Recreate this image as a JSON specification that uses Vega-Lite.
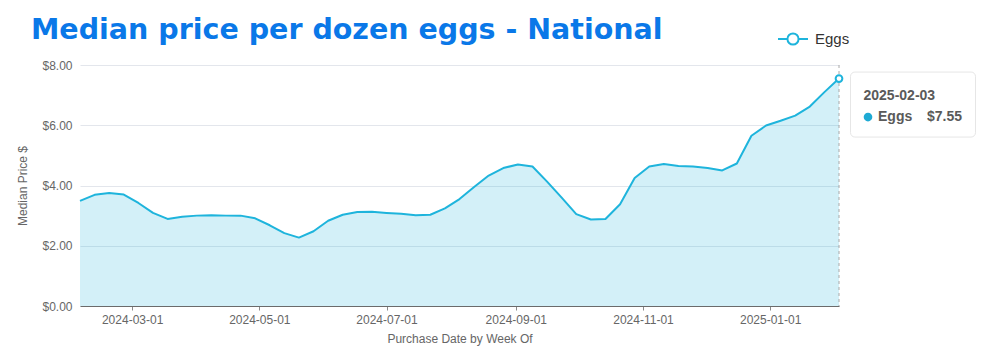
{
  "$schema": "https://vega.github.io/schema/vega-lite/v6.json",
  "width": 759,
  "height": 241,
  "padding": {"left": 16, "top": 16, "right": 5, "bottom": 5},
  "background": "white",
  "title": {
    "text": "Median price per dozen eggs - National",
    "anchor": "start",
    "frame": "group",
    "dx": -49,
    "offset": -21.5,
    "font": "DejaVu Sans",
    "fontSize": 28.5,
    "fontWeight": "bold",
    "color": "#0a78e8"
  },
  "data": {
    "values": [
      {"week": "2024-02-05", "price": 3.49, "series": "Eggs"},
      {"week": "2024-02-12", "price": 3.69, "series": "Eggs"},
      {"week": "2024-02-19", "price": 3.75, "series": "Eggs"},
      {"week": "2024-02-26", "price": 3.70, "series": "Eggs"},
      {"week": "2024-03-04", "price": 3.42, "series": "Eggs"},
      {"week": "2024-03-11", "price": 3.09, "series": "Eggs"},
      {"week": "2024-03-18", "price": 2.89, "series": "Eggs"},
      {"week": "2024-03-25", "price": 2.96, "series": "Eggs"},
      {"week": "2024-04-01", "price": 3.00, "series": "Eggs"},
      {"week": "2024-04-08", "price": 3.01, "series": "Eggs"},
      {"week": "2024-04-15", "price": 3.00, "series": "Eggs"},
      {"week": "2024-04-22", "price": 3.00, "series": "Eggs"},
      {"week": "2024-04-29", "price": 2.91, "series": "Eggs"},
      {"week": "2024-05-06", "price": 2.68, "series": "Eggs"},
      {"week": "2024-05-13", "price": 2.42, "series": "Eggs"},
      {"week": "2024-05-20", "price": 2.27, "series": "Eggs"},
      {"week": "2024-05-27", "price": 2.48, "series": "Eggs"},
      {"week": "2024-06-03", "price": 2.83, "series": "Eggs"},
      {"week": "2024-06-10", "price": 3.03, "series": "Eggs"},
      {"week": "2024-06-17", "price": 3.12, "series": "Eggs"},
      {"week": "2024-06-24", "price": 3.13, "series": "Eggs"},
      {"week": "2024-07-01", "price": 3.09, "series": "Eggs"},
      {"week": "2024-07-08", "price": 3.06, "series": "Eggs"},
      {"week": "2024-07-15", "price": 3.01, "series": "Eggs"},
      {"week": "2024-07-22", "price": 3.03, "series": "Eggs"},
      {"week": "2024-07-29", "price": 3.24, "series": "Eggs"},
      {"week": "2024-08-05", "price": 3.55, "series": "Eggs"},
      {"week": "2024-08-12", "price": 3.95, "series": "Eggs"},
      {"week": "2024-08-19", "price": 4.33, "series": "Eggs"},
      {"week": "2024-08-26", "price": 4.58, "series": "Eggs"},
      {"week": "2024-09-02", "price": 4.70, "series": "Eggs"},
      {"week": "2024-09-09", "price": 4.63, "series": "Eggs"},
      {"week": "2024-09-16", "price": 4.13, "series": "Eggs"},
      {"week": "2024-09-23", "price": 3.60, "series": "Eggs"},
      {"week": "2024-09-30", "price": 3.05, "series": "Eggs"},
      {"week": "2024-10-07", "price": 2.87, "series": "Eggs"},
      {"week": "2024-10-14", "price": 2.89, "series": "Eggs"},
      {"week": "2024-10-21", "price": 3.38, "series": "Eggs"},
      {"week": "2024-10-28", "price": 4.25, "series": "Eggs"},
      {"week": "2024-11-04", "price": 4.63, "series": "Eggs"},
      {"week": "2024-11-11", "price": 4.71, "series": "Eggs"},
      {"week": "2024-11-18", "price": 4.65, "series": "Eggs"},
      {"week": "2024-11-25", "price": 4.63, "series": "Eggs"},
      {"week": "2024-12-02", "price": 4.58, "series": "Eggs"},
      {"week": "2024-12-09", "price": 4.50, "series": "Eggs"},
      {"week": "2024-12-16", "price": 4.73, "series": "Eggs"},
      {"week": "2024-12-23", "price": 5.65, "series": "Eggs"},
      {"week": "2024-12-30", "price": 5.99, "series": "Eggs"},
      {"week": "2025-01-06", "price": 6.15, "series": "Eggs"},
      {"week": "2025-01-13", "price": 6.32, "series": "Eggs"},
      {"week": "2025-01-20", "price": 6.62, "series": "Eggs"},
      {"week": "2025-01-27", "price": 7.10, "series": "Eggs"},
      {"week": "2025-02-03", "price": 7.55, "series": "Eggs"}
    ]
  },
  "encoding": {
    "x": {
      "field": "week",
      "type": "temporal",
      "timeUnit": "utcyearmonthdate",
      "scale": {"nice": false},
      "axis": {
        "title": "Purchase Date by Week Of",
        "format": "%Y-%m-%d",
        "tickCount": {"interval": "month", "step": 2},
        "grid": false,
        "domainColor": "#6b6b6b",
        "tickColor": "#8a8a8a",
        "tickSize": 4,
        "labelPadding": 4,
        "labelFont": "Liberation Sans",
        "labelFontSize": 12,
        "labelColor": "#666666",
        "titleFont": "Liberation Sans",
        "titleFontSize": 12,
        "titleFontWeight": "normal",
        "titleColor": "#666666",
        "titlePadding": 8
      }
    },
    "y": {
      "field": "price",
      "type": "quantitative",
      "scale": {"domain": [0, 8], "nice": false},
      "axis": {
        "title": "Median Price $",
        "format": "$.2f",
        "values": [0, 2, 4, 6, 8],
        "domain": false,
        "ticks": false,
        "tickSize": 0,
        "labelPadding": 8,
        "gridColor": "#e3e6ec",
        "labelFont": "Liberation Sans",
        "labelFontSize": 12,
        "labelColor": "#666666",
        "titleFont": "Liberation Sans",
        "titleFontSize": 12,
        "titleFontWeight": "normal",
        "titleColor": "#666666",
        "titlePadding": 12
      }
    }
  },
  "layer": [
    {
      "mark": {"type": "area", "color": "#22b5dd", "fillOpacity": 0.2, "interpolate": "linear"}
    },
    {
      "mark": {"type": "line", "strokeWidth": 2, "interpolate": "linear", "strokeJoin": "round"},
      "encoding": {
        "color": {
          "field": "series",
          "type": "nominal",
          "scale": {"domain": ["Eggs"], "range": ["#1eb4dc"]},
          "legend": {
            "orient": "none",
            "legendX": 697,
            "legendY": -42,
            "title": null,
            "labelFont": "Liberation Sans",
            "labelFontSize": 15,
            "labelColor": "#333333",
            "labelOffset": 6,
            "symbolType": "M-1,0L-0.37,0M0.37,0L1,0M-0.37,0A0.37,0.37 0 1,0 0.37,0A0.37,0.37 0 1,0 -0.37,0",
            "symbolSize": 900,
            "symbolStrokeWidth": 2,
            "encode": {
              "symbols": {
                "update": {
                  "fill": {"value": "white"},
                  "stroke": {"value": "#1eb4dc"},
                  "strokeWidth": {"value": 2}
                }
              }
            }
          }
        }
      }
    },
    {
      "transform": [{"filter": "datum.price == 7.55"}],
      "mark": {"type": "rule", "color": "#aaaaaa", "strokeDash": [3, 3], "strokeWidth": 1},
      "encoding": {"y": null}
    },
    {
      "transform": [{"filter": "datum.price == 7.55"}],
      "mark": {"type": "point", "filled": true, "fill": "white", "stroke": "#1eb4dc", "strokeWidth": 2, "size": 45, "opacity": 1}
    },
    {
      "transform": [{"filter": "datum.price == 7.55"}],
      "mark": {
        "type": "point",
        "shape": "M-0.93,-0.52L0.93,-0.52A0.07,0.07 0 0,1 1,-0.45L1,0.45A0.07,0.07 0 0,1 0.93,0.52L-0.93,0.52A0.07,0.07 0 0,1 -1,0.45L-1,-0.45A0.07,0.07 0 0,1 -0.93,-0.52Z",
        "size": 15625,
        "filled": true,
        "fill": "white",
        "stroke": "#e6e6e6",
        "strokeWidth": 1,
        "opacity": 1,
        "xOffset": 74,
        "yOffset": 26
      }
    },
    {
      "transform": [{"filter": "datum.price == 7.55"}],
      "mark": {"type": "text", "align": "left", "baseline": "middle", "dx": 24.5, "dy": 17, "font": "Liberation Sans", "fontSize": 14, "fontWeight": "bold", "color": "#5a5a5a"},
      "encoding": {"text": {"field": "week", "type": "temporal", "timeUnit": "utcyearmonthdate", "format": "%Y-%m-%d"}}
    },
    {
      "transform": [{"filter": "datum.price == 7.55"}],
      "mark": {"type": "point", "shape": "circle", "filled": true, "color": "#1eaad4", "size": 75, "opacity": 1, "xOffset": 29, "yOffset": 38.5}
    },
    {
      "transform": [{"filter": "datum.price == 7.55"}],
      "mark": {"type": "text", "align": "left", "baseline": "middle", "dx": 39, "dy": 38.5, "font": "Liberation Sans", "fontSize": 14, "fontWeight": "bold", "color": "#5a5a5a"},
      "encoding": {"text": {"field": "series", "type": "nominal"}}
    },
    {
      "transform": [{"filter": "datum.price == 7.55"}],
      "mark": {"type": "text", "align": "right", "baseline": "middle", "dx": 123, "dy": 38.5, "font": "Liberation Sans", "fontSize": 14, "fontWeight": "bold", "color": "#5a5a5a"},
      "encoding": {"text": {"field": "price", "type": "quantitative", "format": "$.2f"}}
    }
  ],
  "config": {"view": {"stroke": null}}
}
